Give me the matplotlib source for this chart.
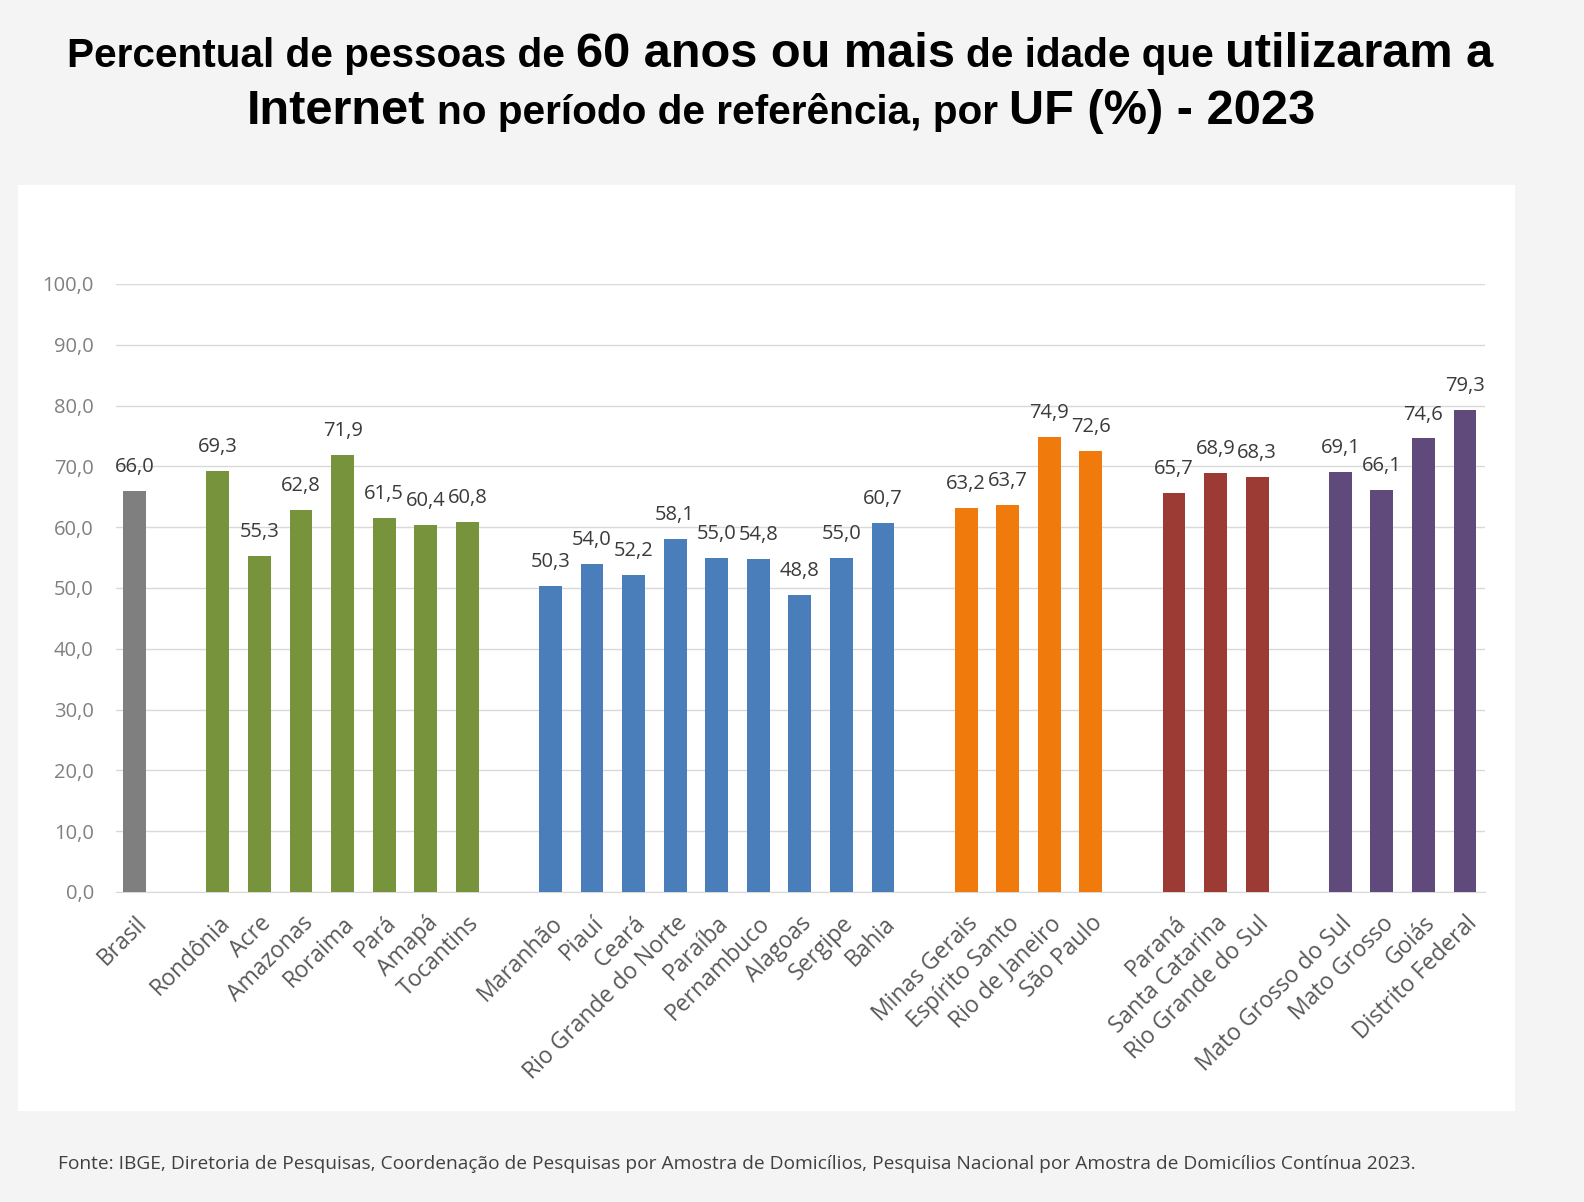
import matplotlib.pyplot as plt
from matplotlib.patches import Rectangle

# dados por região
brasil = ['Brasil']
brasil_vals = [66.0]
norte = ['Rondônia', 'Acre', 'Amazonas', 'Roraima', 'Pará', 'Amapá', 'Tocantins']
norte_vals = [69.3, 55.3, 62.8, 71.9, 61.5, 60.4, 60.8]
nordeste = ['Maranhão', 'Piauí', 'Ceará', 'Rio Grande do Norte', 'Paraíba',
            'Pernambuco', 'Alagoas', 'Sergipe', 'Bahia']
nordeste_vals = [50.3, 54.0, 52.2, 58.1, 55.0, 54.8, 48.8, 55.0, 60.7]
sudeste = ['Minas Gerais', 'Espírito Santo', 'Rio de Janeiro', 'São Paulo']
sudeste_vals = [63.2, 63.7, 74.9, 72.6]
sul = ['Paraná', 'Santa Catarina', 'Rio Grande do Sul']
sul_vals = [65.7, 68.9, 68.3]
centro_oeste = ['Mato Grosso do Sul', 'Mato Grosso', 'Goiás', 'Distrito Federal']
centro_oeste_vals = [69.1, 66.1, 74.6, 79.3]

grupos = [
    (brasil, brasil_vals, '#7f7f7f'),
    (norte, norte_vals, '#77933c'),
    (nordeste, nordeste_vals, '#4a7ebb'),
    (sudeste, sudeste_vals, '#f07b0c'),
    (sul, sul_vals, '#9b3b34'),
    (centro_oeste, centro_oeste_vals, '#604a7b'),
]

W, H = 1584, 1202
fig = plt.figure(figsize=(W / 100, H / 100), dpi=100, facecolor='#f4f4f4')
fig.patches.append(Rectangle((18 / W, 1 - 1111 / H), 1497 / W, 926 / H,
                             transform=fig.transFigure, facecolor='white',
                             edgecolor='none', zorder=-1))

ax = fig.add_axes([116 / W, 1 - 892 / H, 1369 / W, 608 / H])
ax.set_facecolor('white')

fmt = lambda v: f'{v:.1f}'.replace('.', ',')

pos = 0
xticks, xlabels = [], []
for nomes, vals, cor in grupos:
    xs = list(range(pos, pos + len(nomes)))
    ax.bar(xs, vals, width=0.55, color=cor, zorder=3)
    for x, v in zip(xs, vals):
        ax.annotate(fmt(v), (x, v), xytext=(0, 10), textcoords='offset points',
                    ha='center', va='bottom', fontsize=14.5, color='#3a3a3a',
                    family='Open Sans')
    xticks += xs
    xlabels += nomes
    pos += len(nomes) + 1

ax.set_xlim(-0.45, 32.48)
ax.set_ylim(0, 100)
ax.set_yticks(range(0, 101, 10))
ax.set_yticklabels([fmt(v) for v in range(0, 101, 10)], fontsize=14.5,
                   color='#808080', family='Open Sans')
ax.set_xticks(xticks)
ax.set_xticklabels(xlabels, rotation=45, ha='right', rotation_mode='anchor',
                   fontsize=16.5, color='#595959', family='Open Sans')
ax.tick_params(axis='both', length=0)
ax.tick_params(axis='y', pad=16)
ax.tick_params(axis='x', pad=14)
ax.yaxis.grid(True, color='#d9d9d9', lw=1)
ax.set_axisbelow(True)
for s in ['top', 'right', 'left']:
    ax.spines[s].set_visible(False)
ax.spines['bottom'].set_color('#d9d9d9')

# título com trechos em tamanhos diferentes
linha1 = [('Percentual de pessoas de', False), ('60 anos ou mais', True),
          ('de idade que', False), ('utilizaram a', True)]
linha2 = [('Internet', True), ('no período de referência, por', False),
          ('UF (%) - 2023', True)]


def titulo(partes, y, fs_small, fs_big):
    ts = [fig.text(0, y, s, fontsize=fs_big if big else fs_small,
                   fontweight='bold', family='Liberation Sans', va='baseline',
                   color='black') for s, big in partes]
    return ts


def arruma(ts, cx, gap):
    r = fig.canvas.get_renderer()
    ws = [t.get_window_extent(r).width for t in ts]
    total = sum(ws) + gap * (len(ts) - 1)
    x = cx - total / 2
    for t, w in zip(ts, ws):
        t.set_x(x / W)
        x += w + gap
    return total


fs_s, fs_b = 24.5, 29.5
t1 = titulo(linha1, 1 - 67 / H, fs_s, fs_b)
fig.canvas.draw()
tot = arruma(t1, 780, 7)
k = 1419 / tot
fs_s, fs_b = fs_s * k, fs_b * k
for t in t1:
    t.remove()
t1 = titulo(linha1, 1 - 67 / H, fs_s, fs_b)
t2 = titulo(linha2, 1 - 124 / H, fs_s, fs_b)
fig.canvas.draw()
arruma(t1, 780, fs_s * 0.28 * 100 / 72)
arruma(t2, 781, fs_s * 0.28 * 100 / 72)

fig.text(58 / W, 1 - 1164 / H,
         'Fonte: IBGE, Diretoria de Pesquisas, Coordenação de Pesquisas por Amostra de '
         'Domicílios, Pesquisa Nacional por Amostra de Domicílios Contínua 2023.',
         fontsize=13.8, color='#404040', family='Open Sans', va='center')

fig.savefig('out.png', dpi=100, facecolor=fig.get_facecolor())
